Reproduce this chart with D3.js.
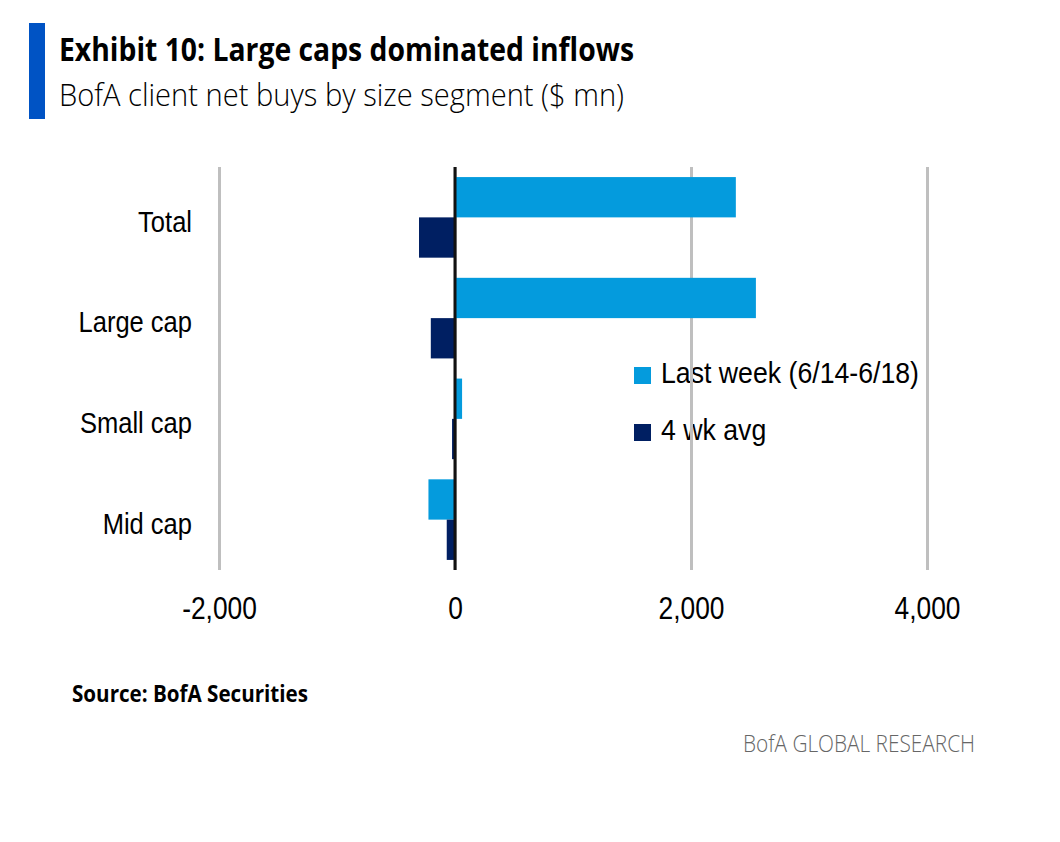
<!DOCTYPE html>
<html>
<head>
<meta charset="utf-8">
<script src="https://cdn.jsdelivr.net/npm/d3@7"></script>
<style>
  body { margin: 0; background: #fff; }
  svg { display: block; }
</style>
</head>
<body>
<div id="chart"></div>
<script>
// data
let categories = ["Total", "Large cap", "Small cap", "Mid cap"];
let seriesNames = ["Last week (6/14-6/18)", "4 wk avg"];
let lastWeek = [2380, 2550, 60, -225];
let fourWeekAvg = [-305, -205, -25, -70];
let xTicks = [-2000, 0, 2000, 4000];

let colors = ["#049bdd", "#001f62"];
let narrow = 0.88; // squeeze Arial-like text horizontally

let width = 1060, height = 842;
let plot = { top: 167, bottom: 570, left: 219, right: 927 };

let svg = d3.select("#chart").append("svg")
    .attr("width", width)
    .attr("height", height);

// title block
svg.append("rect")
    .attr("x", 29).attr("y", 23)
    .attr("width", 16).attr("height", 96)
    .attr("fill", "#0053c4");

svg.append("text")
    .attr("x", 59).attr("y", 61)
    .attr("font-family", "Open Sans")
    .attr("font-weight", 700)
    .attr("font-size", 32)
    .attr("textLength", 575)
    .attr("lengthAdjust", "spacingAndGlyphs")
    .text("Exhibit 10: Large caps dominated inflows");

svg.append("text")
    .attr("x", 59).attr("y", 106)
    .attr("font-family", "Open Sans")
    .attr("font-weight", 300)
    .attr("font-size", 32)
    .attr("textLength", 565)
    .attr("lengthAdjust", "spacingAndGlyphs")
    .text("BofA client net buys by size segment ($ mn)");

// scales
let x = d3.scaleLinear()
    .domain([-2000, 4000])
    .range([plot.left, plot.right]);

let y = d3.scaleBand()
    .domain(categories)
    .range([plot.top, plot.bottom])
    .paddingInner(0.2)
    .paddingOuter(0.1);

let ySub = d3.scaleBand()
    .domain(seriesNames)
    .range([0, y.bandwidth()]);

// legend (grid lines run over it)
let legend = svg.append("g");
seriesNames.forEach(function (name, i) {
    let row = legend.append("g")
        .attr("transform", "translate(634," + (367 + i * 57) + ")");
    row.append("rect")
        .attr("width", 17).attr("height", 17)
        .attr("fill", colors[i]);
    row.append("text")
        .attr("transform", "translate(27,16) scale(0.92,1)")
        .attr("font-family", "Liberation Sans, Arial, sans-serif")
        .attr("font-size", 29)
        .attr("fill", "#000")
        .text(name);
});

// vertical grid
let grid = svg.append("g")
    .attr("transform", "translate(0," + plot.bottom + ")")
    .call(d3.axisBottom(x).tickValues(xTicks).tickSize(-(plot.bottom - plot.top)).tickFormat(""));
grid.select(".domain").remove();
grid.selectAll("line")
    .attr("stroke", "#bfbfbf")
    .attr("stroke-width", 3);

// bars
let rows = categories.map(function (c, i) {
    return { cat: c, values: [lastWeek[i], fourWeekAvg[i]] };
});

let groups = svg.append("g")
    .selectAll("g")
    .data(rows)
    .enter().append("g")
    .attr("transform", function (d) { return "translate(0," + y(d.cat) + ")"; });

groups.selectAll("rect")
    .data(function (d) {
        return d.values.map(function (v, j) { return { name: seriesNames[j], value: v, j: j }; });
    })
    .enter().append("rect")
    .attr("x", function (d) { return x(Math.min(0, d.value)); })
    .attr("y", function (d) { return ySub(d.name); })
    .attr("width", function (d) { return Math.abs(x(d.value) - x(0)); })
    .attr("height", ySub.bandwidth())
    .attr("fill", function (d) { return colors[d.j]; });

// zero line
svg.append("line")
    .attr("x1", x(0)).attr("x2", x(0))
    .attr("y1", plot.top).attr("y2", plot.bottom)
    .attr("stroke", "#111")
    .attr("stroke-width", 3);

// category labels
let yAxis = svg.append("g")
    .attr("transform", "translate(192,0)")
    .call(d3.axisLeft(y).tickSize(0).tickPadding(0));
yAxis.select(".domain").remove();
yAxis.selectAll("text")
    .attr("font-family", "Liberation Sans, Arial, sans-serif")
    .attr("font-size", 29)
    .attr("fill", "#000")
    .attr("dy", "0.49em")
    .attr("transform", "scale(" + narrow + ",1)");

// value axis labels (plain hyphen for negatives, as in the original)
let fmt = d3.format(",");
let xAxis = svg.append("g")
    .attr("transform", "translate(0," + plot.bottom + ")")
    .call(d3.axisBottom(x).tickValues(xTicks).tickSize(0).tickPadding(27)
        .tickFormat(function (d) { return fmt(d).replace("\u2212", "-"); }));
xAxis.select(".domain").remove();
xAxis.selectAll("text")
    .attr("font-family", "Liberation Sans, Arial, sans-serif")
    .attr("font-size", 31)
    .attr("fill", "#000")
    .attr("transform", "scale(0.85,1)");

// footer
svg.append("text")
    .attr("x", 72).attr("y", 702)
    .attr("font-family", "Open Sans")
    .attr("font-weight", 700)
    .attr("font-size", 23)
    .attr("textLength", 236)
    .attr("lengthAdjust", "spacingAndGlyphs")
    .text("Source: BofA Securities");

svg.append("text")
    .attr("x", 743).attr("y", 752)
    .attr("font-family", "Open Sans")
    .attr("font-weight", 300)
    .attr("font-size", 24)
    .attr("fill", "#666")
    .attr("textLength", 232)
    .attr("lengthAdjust", "spacingAndGlyphs")
    .text("BofA GLOBAL RESEARCH");
</script>
</body>
</html>
